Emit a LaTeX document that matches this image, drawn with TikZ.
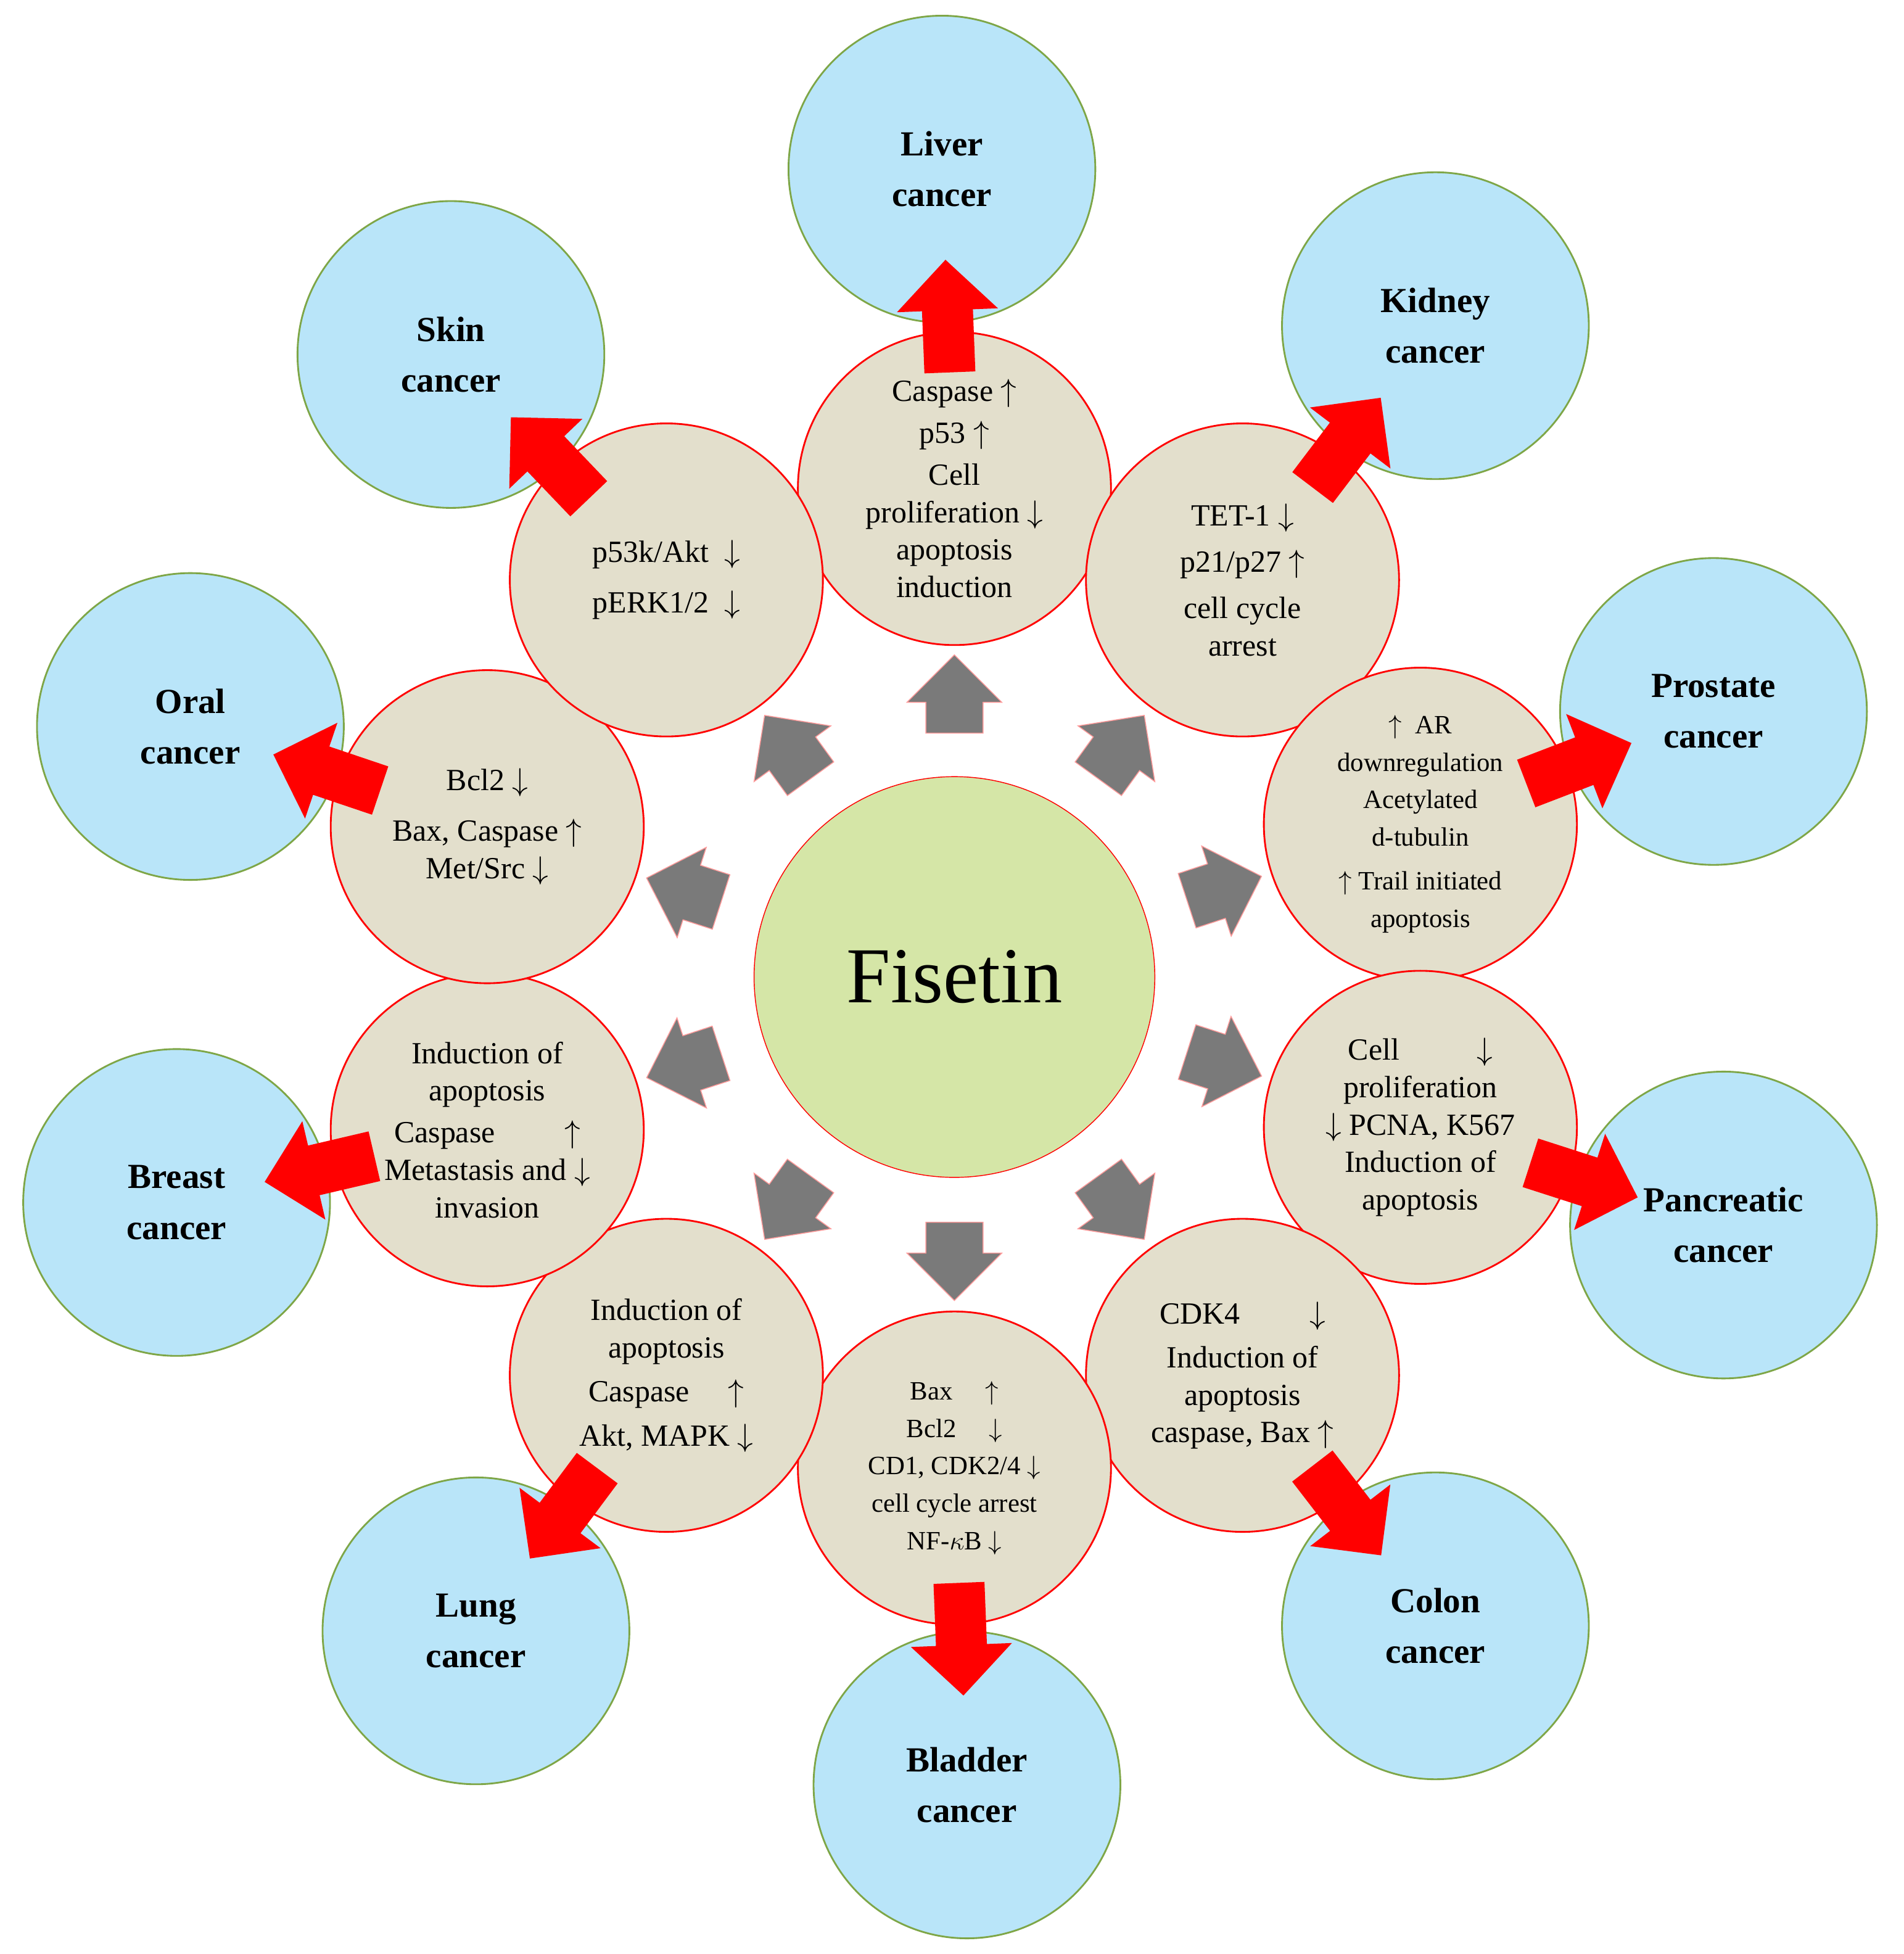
\documentclass[tikz,border=0pt]{standalone}
\usepackage{fontspec}
\setmainfont{Liberation Serif}
\usetikzlibrary{shapes.arrows,calc}
\definecolor{beige}{HTML}{E3DFCC}
\definecolor{skyblue}{HTML}{B9E5F9}
\definecolor{olive}{HTML}{7EA647}
\definecolor{lime}{HTML}{D5E6A7}
\definecolor{arrowgray}{HTML}{7A7A7A}
\tikzset{
  mech/.style={circle, draw=red, thick, fill=beige, minimum size=5cm, align=center,
    font=\fontsize{14}{17}\selectfont},
  cancer/.style={circle, draw=olive, thick, fill=skyblue, minimum size=4.9cm, align=center,
    font=\fontsize{16}{23}\selectfont\bfseries},
  redarrow/.style={single arrow, fill=red, minimum height=1.8cm, inner xsep=0pt,
    inner ysep=0.4cm, single arrow head extend=0.4cm},
  grayarrow/.style={single arrow, fill=arrowgray, draw=red!40, thin, minimum height=1.25cm,
    inner xsep=0pt, inner ysep=0.45cm, single arrow head extend=0.3cm}
}
\begin{document}
\begin{tikzpicture}[x=0.02cm, y=-0.02cm]
            \useasboundingbox (0,0) rectangle (1520,1560);
            \node[circle, draw=red, fill=lime, minimum size=6.4cm,
                font=\fontsize{36}{40}\selectfont] (fis) at (762,780) {Fisetin};
            % outer circles
            \foreach \nm/\pos/\txt in {liv/{752,135}/{Liver\\cancer},
                kid/{1146,260}/{Kidney\\cancer}, pro/{1368,568}/{Prostate\\cancer},
                pan/{1376,978}/{Pancreatic\\cancer}, col/{1146,1298}/{Colon\\cancer},
                bla/{772,1425}/{Bladder\\cancer}, lun/{380,1302}/{Lung\\cancer},
                bre/{141,960}/{Breast\\cancer}, ora/{152,580}/{Oral\\cancer},
                ski/{360,283}/{Skin\\cancer}} {
                \node[cancer] (c-\nm) at (\pos) {\txt};
            }
            % mechanism circles
            \foreach \nm/\pos/\txt in {
                liv/{762,390}/{Caspase $\uparrow$\\[2pt] p53 $\uparrow$\\[2pt] Cell\\ proliferation $\downarrow$\\ apoptosis\\ induction},
                kid/{992,463}/{TET-1 $\downarrow$\\[4pt] p21/p27 $\uparrow$\\[4pt] cell cycle\\ arrest},
                pro/{1134,658}/{\fontsize{12}{16}\selectfont $\uparrow$\ \ AR\\ \fontsize{12}{16}\selectfont downregulation\\ \fontsize{12}{16}\selectfont Acetylated\\ \fontsize{12}{16}\selectfont d-tubulin\\[3pt] \fontsize{12}{16}\selectfont $\uparrow$\ Trail initiated\\ \fontsize{12}{16}\selectfont apoptosis},
                pan/{1134,900}/{Cell \qquad\ $\downarrow$\\ proliferation\\ $\downarrow$ PCNA, K567\\ Induction of\\ apoptosis},
                col/{992,1098}/{CDK4 \qquad $\downarrow$\\[3pt] Induction of\\ apoptosis\\ caspase, Bax $\uparrow$},
                bla/{762,1172}/{\fontsize{12}{17}\selectfont Bax \quad $\uparrow$\\ \fontsize{12}{17}\selectfont Bcl2 \quad $\downarrow$\\ \fontsize{12}{17}\selectfont CD1, CDK2/4 $\downarrow$\\ \fontsize{12}{17}\selectfont cell cycle arrest\\ \fontsize{12}{17}\selectfont NF-$\kappa$B $\downarrow$},
                lun/{532,1098}/{Induction of\\ apoptosis\\[3pt] Caspase \quad $\uparrow$\\[3pt] Akt, MAPK $\downarrow$},
                bre/{389,902}/{Induction of\\ apoptosis\\[2pt] Caspase \qquad $\uparrow$\\ Metastasis and $\downarrow$\\ invasion},
                ora/{389,660}/{Bcl2 $\downarrow$\\[6pt] Bax, Caspase $\uparrow$\\ Met/Src $\downarrow$},
                ski/{532,463}/{p53k/Akt \ $\downarrow$\\[6pt] pERK1/2 \ $\downarrow$}} {
                \node[mech] (m-\nm) at (\pos) {\txt};
            }
            % arrows
            \foreach \nm in {liv,kid,pro,pan,col,bla,lun,bre,ora,ski} {
                \path let \p1=($(m-\nm)-(fis)$), \n1={atan2(\y1,\x1)} in
                    node[grayarrow, rotate=\n1] (g-\nm) at ($(fis)!0.55!(m-\nm)$) {};
                \path let \p1=($(c-\nm)-(m-\nm)$), \n1={atan2(\y1,\x1)} in
                    node[redarrow, rotate=\n1] (r-\nm) at ($(m-\nm)!0.5!(c-\nm)$) {};
            }
        \end{tikzpicture}
\end{document}
